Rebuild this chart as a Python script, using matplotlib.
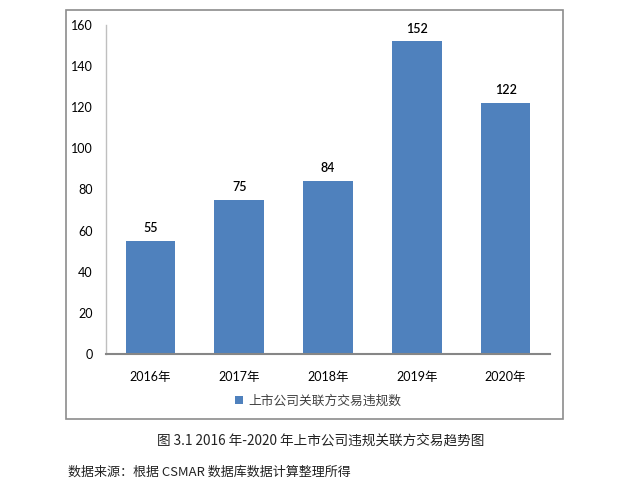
import matplotlib.pyplot as plt
from matplotlib.patches import Rectangle

years = ['2016年', '2017年', '2018年', '2019年', '2020年']
counts = [55, 75, 84, 152, 122]
series_name = '上市公司关联方交易违规数'
caption = '图 3.1 2016 年-2020 年上市公司违规关联方交易趋势图'
source_note = '数据来源：根据 CSMAR 数据库数据计算整理所得'

plt.rcParams['font.family'] = ['Lato', 'Noto Sans CJK SC', 'DejaVu Sans']

W, H = 626, 484
fig = plt.figure(figsize=(W / 100, H / 100), dpi=100)
fig.patch.set_facecolor('white')

# outer chart frame
fig.patches.append(Rectangle((66 / W, 1 - 419 / H), (563 - 66) / W, (419 - 10) / H,
                             transform=fig.transFigure, fill=False,
                             edgecolor='#8c8c8c', linewidth=1.2))

ax = fig.add_axes([106 / W, 1 - 354 / H, (550 - 106) / W, (354 - 25) / H])
bar_color = '#4f81bd'
bars = ax.bar(years, counts, width=0.56, color=bar_color, label=series_name)
ax.set_xlim(-0.5, len(years) - 0.5)
ax.set_ylim(0, 160)
ax.set_yticks(range(0, 161, 20))

for b, v in zip(bars, counts):
    ax.annotate(str(v), (b.get_x() + b.get_width() / 2, v), xytext=(0, 5),
                textcoords='offset points', ha='center', va='bottom',
                fontsize=9, fontweight='semibold', color='black')

for side in ['top', 'right']:
    ax.spines[side].set_visible(False)
ax.spines['left'].set_color('#bfbfbf')
ax.spines['left'].set_linewidth(1.0)
ax.spines['bottom'].set_color('#868686')
ax.spines['bottom'].set_linewidth(1.5)
ax.tick_params(axis='both', length=0, labelsize=9, colors='black')
ax.tick_params(axis='y', pad=9.5)
ax.tick_params(axis='x', pad=12)

leg = fig.legend(handles=[bars], labels=[series_name], loc='center',
                 bbox_to_anchor=(318 / W, 1 - 400 / H), frameon=False,
                 fontsize=9.2, handlelength=0.6, handleheight=0.6,
                 handletextpad=0.4)
for t in leg.get_texts():
    t.set_color('#404040')

fig.text(321 / W, 1 - 441 / H, caption, ha='center', va='center',
         fontsize=9.8, family=['Noto Sans CJK SC', 'DejaVu Sans'], color='#222222')
fig.text(68 / W, 1 - 472 / H, source_note, ha='left', va='center',
         fontsize=9.4, family=['Noto Sans CJK SC', 'DejaVu Sans'], color='#222222')

fig.savefig('out.png', dpi=100, facecolor='white')
